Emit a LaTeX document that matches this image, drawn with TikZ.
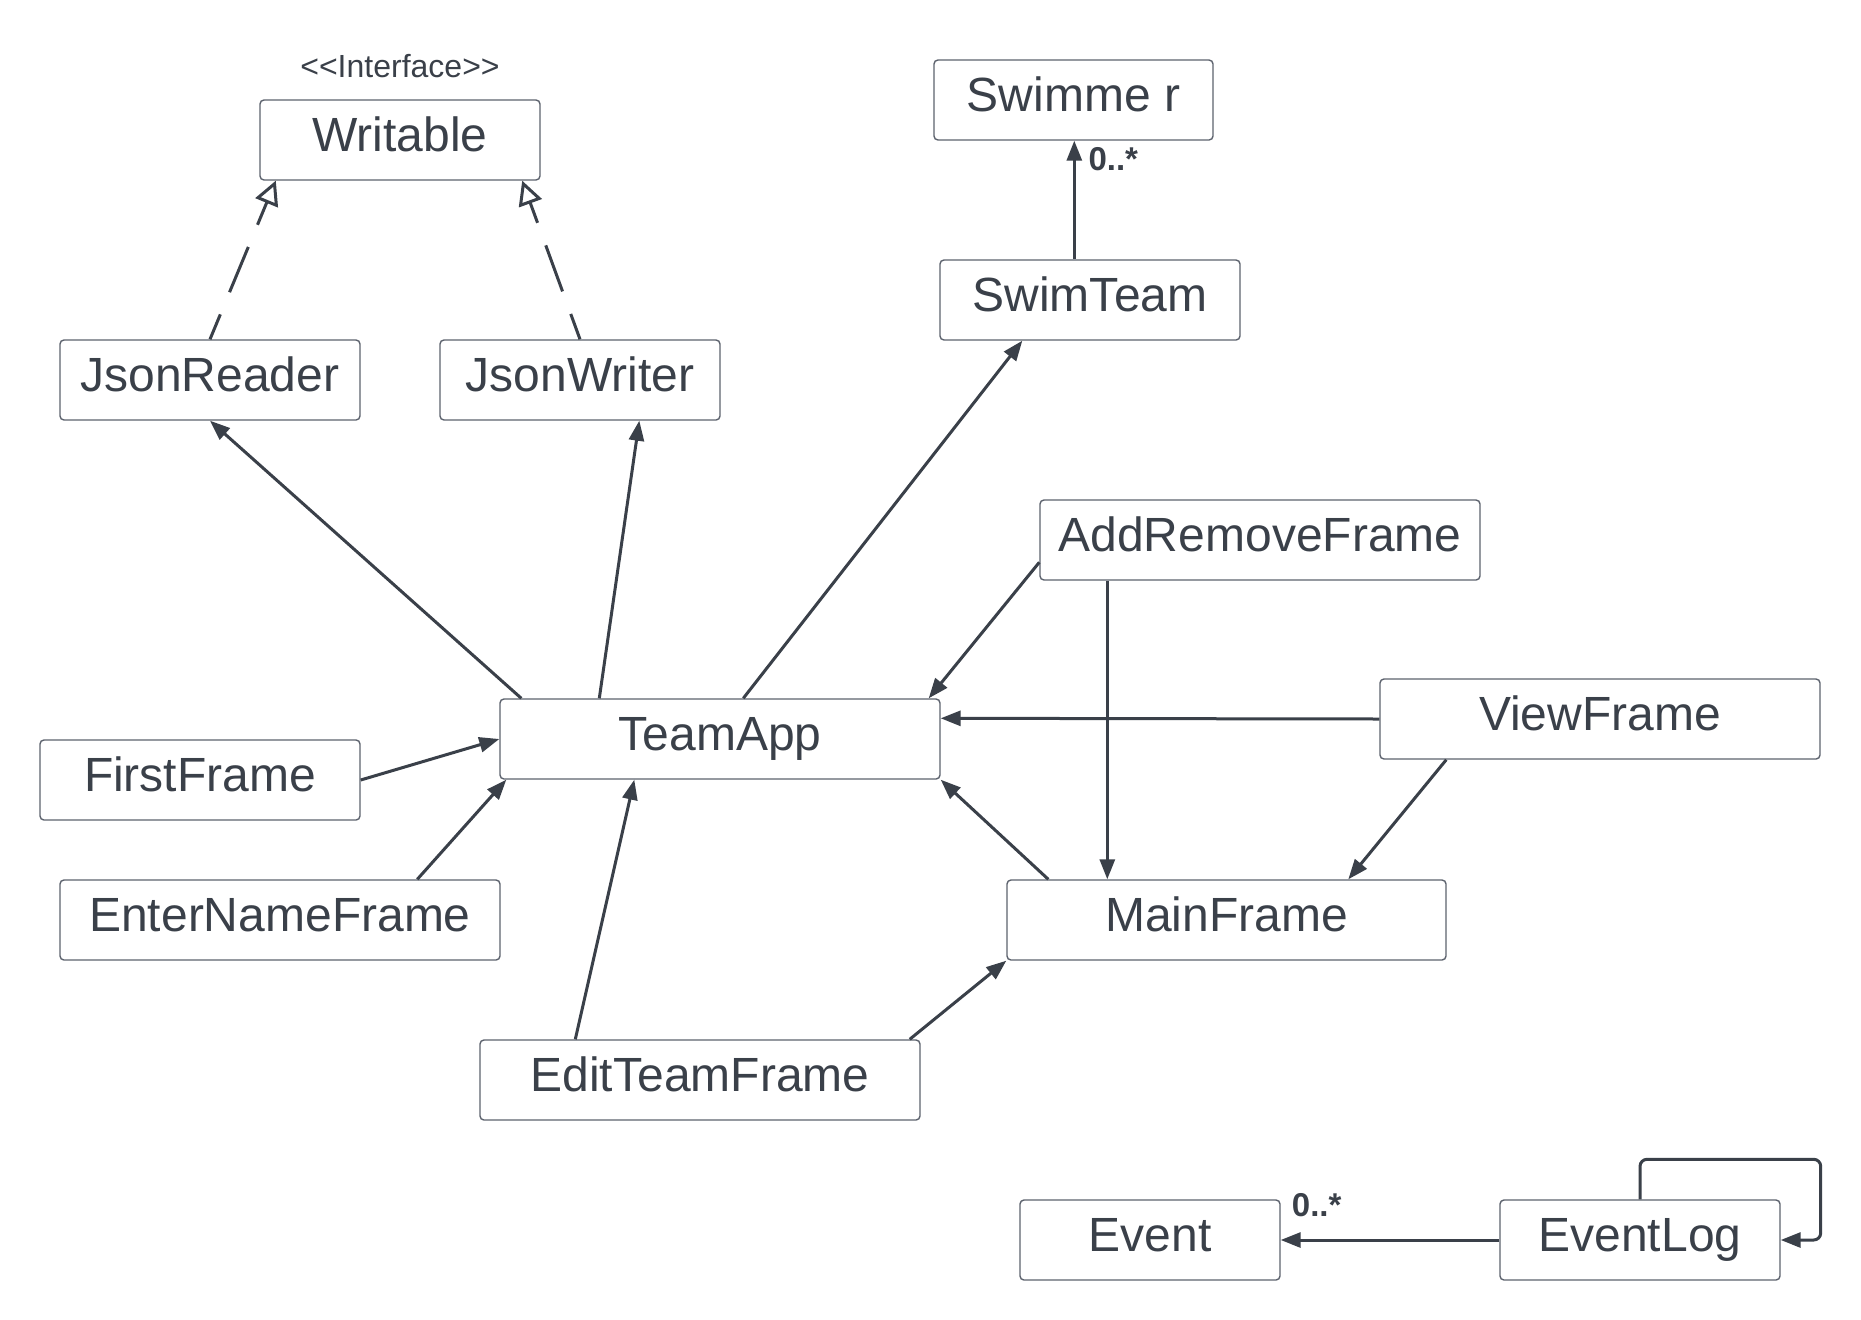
\documentclass[tikz,border=0pt]{standalone}
\usepackage{fontspec}
\setmainfont{Liberation Sans}
\usetikzlibrary{arrows.meta,calc}
\definecolor{ink}{HTML}{3A4049}
\definecolor{boxc}{HTML}{5D636E}
\begin{document}
\begin{tikzpicture}[x=1pt,y=-1pt,
  cls/.style={draw=boxc, line width=1.4pt, rounded corners=4pt, inner sep=0pt,
    minimum height=80pt, text height=22.4pt, text depth=0pt,
    font=\fontsize{48}{58}\selectfont, text=ink},
  assoc/.style={draw=ink, line width=3pt, -{Triangle[length=20pt,width=15pt]}},
  real/.style={draw=ink, line width=3pt, dash pattern=on 49pt off 24pt, dash phase=22pt,
    -{Triangle[open,length=24pt,width=24pt]}},
  mult/.style={font=\fontsize{33}{40}\selectfont\bfseries, text=ink, inner sep=0pt, anchor=base west},
  stereo/.style={font=\fontsize{32}{38}\selectfont, text=ink, inner sep=0pt, anchor=base}
]
\useasboundingbox[fill=white] (0,0) rectangle (1861,1320);

% classes
\node[cls, minimum width=280pt] (writable) at (400,140) {Writable};
\node[cls, minimum width=300pt] (jreader) at (210,380) {JsonReader};
\node[cls, minimum width=280pt] (jwriter) at (580,380) {JsonWriter};
\node[cls, minimum width=279pt] (swimmer) at (1073.5,100) {Swimme r};
\node[cls, minimum width=300pt] (swimteam) at (1090,300) {SwimTeam};
\node[cls, minimum width=440pt] (addremove) at (1260,540) {AddRemoveFrame};
\node[cls, minimum width=440pt] (teamapp) at (720,739) {TeamApp};
\node[cls, minimum width=440pt] (viewframe) at (1600,719) {ViewFrame};
\node[cls, minimum width=320pt] (firstframe) at (200,780) {FirstFrame};
\node[cls, minimum width=440pt] (entername) at (280,920) {EnterNameFrame};
\node[cls, minimum width=439pt] (mainframe) at (1226.5,920) {MainFrame};
\node[cls, minimum width=440pt] (editteam) at (700,1080) {EditTeamFrame};
\node[cls, minimum width=260pt] (event) at (1150,1240) {Event};
\node[cls, minimum width=280pt] (eventlog) at (1640,1240) {EventLog};

% labels
\node[stereo] (iface) at ($(writable.north)+(0,-22)$) {<\kern0pt<Interface>\kern0pt>};
\node[mult] (m1) at ($(swimmer.south west)+(155,30)$) {0..*};
\node[mult] (m2) at ($(event.north east)+(11,17)$) {0..*};

% realizations
\draw[real] (jreader.north) -- ($(writable.south west)+(16.5,0)$);
\draw[real] (jwriter.north) -- ($(writable.south east)+(-18.5,0)$);

% associations
\draw[assoc] ($(swimteam.north west)+(135,0)$) -- ($(swimmer.south west)+(141,0)$);
\draw[assoc] ($(teamapp.north west)+(22,0)$) -- (jreader.south);
\draw[assoc] ($(teamapp.north west)+(100,0)$) -- ($(jwriter.south west)+(200,0)$);
\draw[assoc] ($(teamapp.north west)+(244,0)$) -- ($(swimteam.south west)+(83,0)$);
\draw[assoc] ($(addremove.north west)+(0,63)$) -- ($(teamapp.north east)+(-12,0)$);
\draw[assoc] ($(addremove.south west)+(68,0)$) -- ($(mainframe.north west)+(101,0)$);
\draw[assoc] (viewframe.west) -- ($(teamapp.north east)+(0,20)$);
\draw[assoc] ($(viewframe.south west)+(67,0)$) -- ($(mainframe.north west)+(342,0)$);
\draw[assoc] ($(mainframe.north west)+(42,0)$) -- (teamapp.south east);
\draw[assoc] (firstframe.east) -- (teamapp.west);
\draw[assoc] ($(entername.north west)+(358,0)$) -- ($(teamapp.south west)+(7,0)$);
\draw[assoc] ($(editteam.north west)+(96,0)$) -- ($(teamapp.south west)+(135,0)$);
\draw[assoc] ($(editteam.north east)+(-11,0)$) -- (mainframe.south west);
\draw[assoc] (eventlog.west) -- (event.east);
\draw[assoc, rounded corners=7pt] (eventlog.north) |- ($(eventlog.north east)+(40,-40)$) |- (eventlog.east);
\end{tikzpicture}
\end{document}
